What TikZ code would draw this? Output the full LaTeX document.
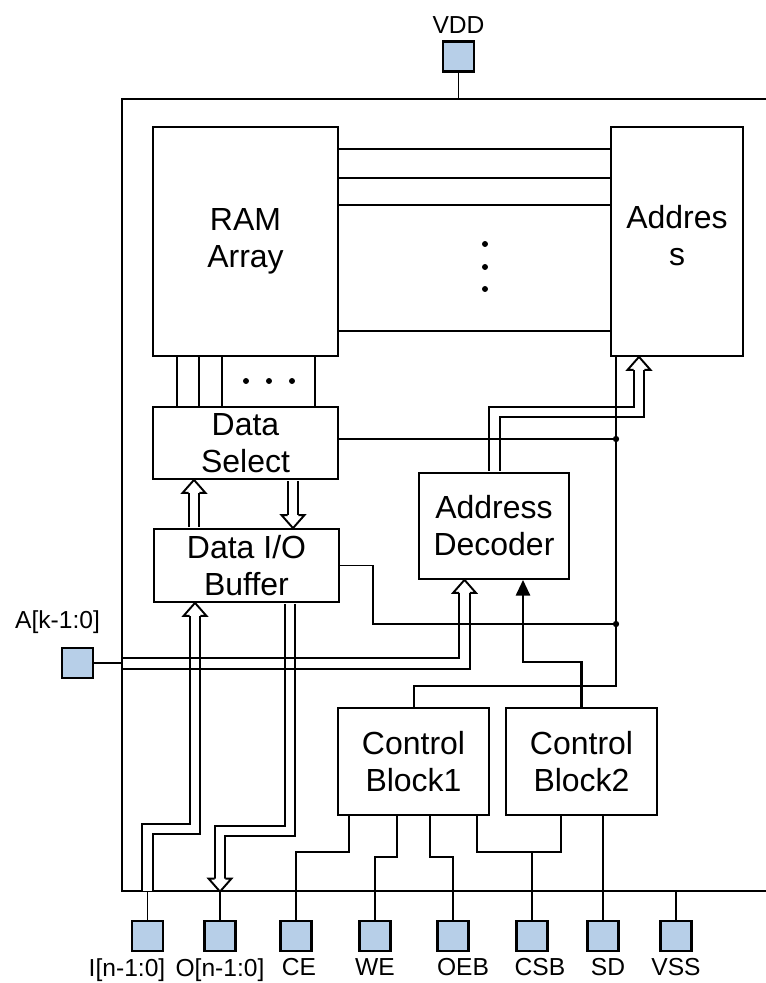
\documentclass[tikz,border=0pt]{standalone}
\usepackage{fontspec}
\setmainfont{Liberation Sans}
\usetikzlibrary{arrows.meta,calc}
\definecolor{pinblue}{HTML}{B7CFE8}
\begin{document}
\begin{tikzpicture}[x=0.02cm, y=-0.02cm, line width=1pt,
        font=\fontsize{18.2}{21}\selectfont,
        box/.style={draw, align=center, inner sep=0pt},
        pin/.style={draw, fill=pinblue, line width=1.2pt, minimum width=0.62cm, minimum height=0.6cm, inner sep=0pt},
        every label/.style={font=\fontsize{14}{16}\selectfont},
        bus/.style={double, line width=1.1pt, double distance=5.1pt, shorten >=7.4pt},
        ctl/.style={line width=1.6pt, -{Triangle[width=8pt, length=9pt]}},
        hd/.pic={\draw[line width=1.1pt, fill=white] (-3.1pt,-7.4pt) -- (-6.5pt,-7.4pt) -- (0,0) -- (6.5pt,-7.4pt) -- (3.1pt,-7.4pt);}]
      \useasboundingbox (0,0) rectangle (765,983);
      \node[draw, anchor=north west, minimum width=13.6cm, minimum height=15.84cm] (chip) at (121,98) {};
      \node[box, minimum width=3.7cm, minimum height=4.58cm] (ram) at (245.5,241.5) {RAM\\Array};
      \node[box, minimum width=2.64cm, minimum height=4.58cm, text depth=0.24cm] (adr) at (677,241.5) {Addres\\s};
      \node[box, minimum width=3.7cm, minimum height=1.44cm] (dsel) at (245.5,443) {Data\\Select};
      \node[box, minimum width=3.7cm, minimum height=1.46cm] (dio) at (246.5,565.5) {Data I/O\\Buffer};
      \node[box, minimum width=3cm, minimum height=2.12cm] (dec) at (494,526) {Address\\Decoder};
      \node[box, minimum width=3.02cm, minimum height=2.14cm] (cb1) at (413.5,761.5) {Control\\Block1};
      \node[box, minimum width=3.02cm, minimum height=2.14cm] (cb2) at (581.5,761.5) {Control\\Block2};
      \node[pin, label=above:VDD] (vdd) at (458.5,56.5) {};
      \node[pin, label={[xshift=-0.4cm, label distance=0.136cm]above:{A[k-1:0]}}] (apin) at (77.5,663) {};
      \node[pin, label={[xshift=-0.41cm]below:{I[n-1:0]}}] (ipin) at (147.5,936) {};
      \node[pin, label=below:{O[n-1:0]}] (opin) at (220,936) {};
      \node[pin, label={[xshift=0.06cm]below:CE}] (cepin) at (296,936) {};
      \node[pin, label=below:WE] (wepin) at (375,936) {};
      \node[pin, label={[xshift=0.2cm]below:OEB}] (oebpin) at (453,936) {};
      \node[pin, label={[xshift=0.16cm]below:CSB}] (csbpin) at (532,936) {};
      \node[pin, label={[xshift=0.1cm]below:SD}] (sdpin) at (603,936) {};
      \node[pin, label=below:VSS] (vsspin) at (676,936) {};
      \coordinate (j1) at (616,439);
      \coordinate (j2) at (616,624);
      \foreach \y in {149,178,205,331}
        \draw (ram.east |- 0,\y) -- (adr.west |- 0,\y);
      \foreach \y in {244,267,289}
        \fill (485,\y) circle (1.7pt);
      \foreach \x in {177,199,222,315}
        \draw (\x,0 |- ram.south) -- (\x,0 |- dsel.north);
      \foreach \x in {246,269,292}
        \fill (\x,381) circle (1.7pt);
      \draw[bus] ($(194,0 |- dio.north)+(0,-1)$) -- (194,0 |- dsel.south);
      \draw[bus] ($(293,0 |- dsel.south)+(0,1)$) -- (293,0 |- dio.north);
      \draw[bus] ($(494.5,0 |- dec.north)+(0,-1)$) |- (639,412) -- (639,0 |- adr.south);
      \draw[bus] ($(ipin |- chip.south)+(0,-1)$) |- (195,829) -- (195,0 |- dio.south);
      \draw[bus] ($(290,0 |- dio.south)+(0,1)$) |- (220,831) -- (opin |- chip.south);
      \draw[line width=1.1pt] ($(apin -| chip.west)+(0,-5)$) -| ($(464,0 |- dec.south)+(-5,13)$);
      \draw[line width=1.1pt] ($(apin -| chip.west)+(0,6)$) -| ($(464,0 |- dec.south)+(6,13)$);
      \pic at (194,0 |- dsel.south) {hd};
      \pic[rotate=180] at (293,0 |- dio.north) {hd};
      \pic at (639,0 |- adr.south) {hd};
      \pic at (195,0 |- dio.south) {hd};
      \pic[rotate=180] at (opin |- chip.south) {hd};
      \pic at (464.5,0 |- dec.south) {hd};
      \draw (dsel.east |- j1) -- (j1);
      \draw (dio.east) -| (373,624) -- (j2);
      \draw (j1 |- adr.south) -- (616,686) -| (414,0 |- cb1.north);
      \fill (j1) circle (1.8pt);
      \fill (j2) circle (1.8pt);
      \draw[ctl] (cb2.north) |- (523,662) -- (523,0 |- dec.south);
      \draw (cepin.north) |- (349,852) -- (349,0 |- cb1.south);
      \draw (wepin.north) |- (397,857) -- (397,0 |- cb1.south);
      \draw (oebpin.north) |- (430,857) -- (430,0 |- cb1.south);
      \draw (477,0 |- cb1.south) |- (561,852) -- (561,0 |- cb2.south);
      \draw (csbpin.north) -- (csbpin |- 0,852);
      \draw (sdpin.north) -- (sdpin |- cb2.south);
      \draw (vsspin.north) -- (vsspin |- chip.south);
      \draw (ipin.north) -- (ipin |- chip.south);
      \draw (opin.north) -- (opin |- chip.south);
      \draw (vdd.south) -- (vdd |- chip.north);
      \draw (apin.east) -- (apin -| chip.west);
    \end{tikzpicture}
\end{document}
